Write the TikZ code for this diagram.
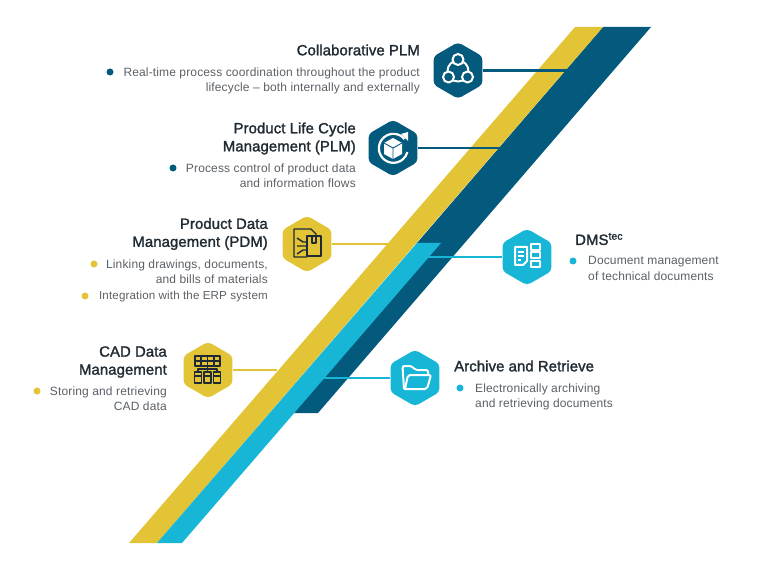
\documentclass[tikz,border=0pt]{standalone}
\usepackage{fontspec}
\setmainfont{Liberation Sans}
\newfontfamily\titlefont[FakeBold=1.6,LetterSpace=0.6]{Liberation Sans}
\newfontfamily\bodyfont[LetterSpace=1.2]{Liberation Sans}
\usepackage{tikz}
\usetikzlibrary{shapes.geometric, arrows}
\definecolor{navyband}{HTML}{035A7D}
\definecolor{yellowband}{HTML}{E3C436}
\definecolor{cyanband}{HTML}{17B5D6}
\definecolor{darkink}{HTML}{1F2A33}
\definecolor{greytext}{HTML}{5A6066}
\tikzstyle{hexbase} = [regular polygon, regular polygon sides=6, shape border rotate=30, minimum size=56.5pt, inner sep=0pt, rounded corners=4pt]
\tikzstyle{hexnavy} = [hexbase, fill=navyband]
\tikzstyle{hexyellow} = [hexbase, fill=yellowband]
\tikzstyle{hexcyan} = [hexbase, fill=cyanband]
\tikzstyle{titletext} = [font={\titlefont\fontsize{14.9}{18}\selectfont}, text=darkink, inner sep=0pt]
\tikzstyle{bodytext} = [font={\bodyfont\fontsize{12}{15.5}\selectfont}, text=greytext, inner sep=0pt]
\tikzstyle{bullet} = [circle, minimum size=7pt, inner sep=0pt]
\tikzstyle{link} = [line width=2.6pt]
\tikzstyle{whiteicon} = [draw=white, line width=2pt, line join=round]
\tikzstyle{darkicon} = [draw=darkink, line width=1.4pt, line join=round]

\begin{document}
\begin{tikzpicture}[x=1pt, y=-1pt]
\useasboundingbox (0,0) rectangle (768,569);

% bands
\fill [navyband] (603,27) -- (651,27) -- (318,413) -- (294,413) -- (417,243) -- cycle;
\fill [yellowband] (575,27) -- (603,27) -- (157,543) -- (129,543) -- cycle;
\fill [cyanband] (417,243) -- (441,243) -- (182,543) -- (157,543) -- cycle;

% hexagons
\node (hexcollab) [hexnavy] at (458,70.5) {};
\node (hexplm) [hexnavy] at (393,148) {};
\node (hexpdm) [hexyellow] at (307,244) {};
\node (hexdms) [hexcyan] at (527,257) {};
\node (hexcad) [hexyellow] at (208,370) {};
\node (hexarchive) [hexcyan] at (415,378) {};

% link ends
\coordinate (endcollab) at (568,70.5);
\coordinate (endplm) at (502,148);
\coordinate (endpdm) at (388,244);
\coordinate (enddms) at (427,257);
\coordinate (endcad) at (277,370);
\coordinate (endarchive) at (322,378);

\draw [link, navyband] (hexcollab) -- (endcollab);
\draw [link, navyband] (hexplm) -- (endplm);
\draw [link, yellowband] (hexpdm) -- (endpdm);
\draw [link, cyanband] (hexdms) -- (enddms);
\draw [link, yellowband] (hexcad) -- (endcad);
\draw [link, cyanband] (hexarchive) -- (endarchive);

% text
\node (titlecollab) [titletext, anchor=east] at (420,50) {Collaborative PLM};
\node (bodycollab) [bodytext, anchor=north east, align=right] at (420,67.5) {Real-time process coordination throughout the product\\lifecycle – both internally and externally};
\node (dotcollab) [bullet, fill=navyband] at (110,72) {};

\node (titleplm) [titletext, anchor=east, align=right] at (356,138.5) {Product Life Cycle\\Management (PLM)};
\node (bodyplm) [bodytext, anchor=north east, align=right] at (356,163.5) {Process control of product data\\and information flows};
\node (dotplm) [bullet, fill=navyband] at (173,168) {};

\node (titlepdm) [titletext, anchor=east, align=right] at (268,234) {Product Data\\Management (PDM)};
\node (bodypdm) [bodytext, anchor=north east, align=right] at (268,259.5) {Linking drawings, documents,\\and bills of materials};
\node (bodyerp) [bodytext, anchor=east, font={\bodyfont\fontsize{11.6}{15.5}\selectfont}] at (268,297) {Integration with the ERP system};
\node (dotpdm) [bullet, fill=yellowband] at (94,264) {};
\node (doterp) [bullet, fill=yellowband] at (85,296) {};

\node (titlecad) [titletext, anchor=east, align=right] at (167,362) {CAD Data\\Management};
\node (bodycad) [bodytext, anchor=north east, align=right] at (167,386.5) {Storing and retrieving\\CAD data};
\node (dotcad) [bullet, fill=yellowband] at (37,391) {};

\node (titledms) [titletext, anchor=west] at (575,239) {DMS\textsuperscript{tec}};
\node (bodydms) [bodytext, anchor=north west, align=left] at (588,256.5) {Document management\\of technical documents};
\node (dotdms) [bullet, fill=cyanband] at (573,261) {};

\node (titlearchive) [titletext, anchor=west] at (454,366) {Archive and Retrieve};
\node (bodyarchive) [bodytext, anchor=north west, align=left] at (475,383.5) {Electronically archiving\\and retrieving documents};
\node (dotarchive) [bullet, fill=cyanband] at (460,388) {};

% icon: collaboration ring
\draw [whiteicon] (458,71) circle (10.5);
\foreach \cx/\cy in {458/59.5, 448.5/77, 467.5/77}
  \draw [whiteicon, fill=navyband] (\cx,\cy) circle (5.5);

% icon: cube with arrow
\draw [whiteicon, line width=2.2pt] (404.5,139) arc (-40:-345:14.5);
\fill [white] (401,134) -- (408,132) -- (408,141) -- cycle;
\fill [white] (393,138) -- (402,143) -- (402,154) -- (393,159) -- (384,154) -- (384,143) -- cycle;
\draw [navyband, line width=0.9pt] (384,143) -- (393,148) -- (402,143) (393,148) -- (393,159);

% icon: document and parcel
\draw [darkicon] (316,236) -- (316,234) -- (311,229) -- (294,229) -- (294,257) -- (307,257);
\draw [darkicon] (307,236) rectangle (321,256);
\draw [darkicon] (312,236) -- (312,243) -- (316,243) -- (316,236);
\draw [darkicon] (297,238) -- (303,242) -- (307,242) (297,246) -- (307,246) (297,254) -- (303,250) -- (307,250);

% icon: document and lists
\draw [whiteicon] (527,261) -- (527,247) -- (515,247) -- (515,265) -- (523,265) -- cycle;
\draw [whiteicon, line width=1.4pt] (518,252) -- (524,252) (518,256) -- (524,256) (518,260) -- (521,260);
\foreach \ry in {244, 252.5, 261}
  \draw [whiteicon] (531,\ry) rectangle (540,\ry+6);

% icon: table and cylinders
\draw [darkicon] (195,356) rectangle (220,366);
\draw [darkicon] (195,361) -- (220,361) (201,356) -- (201,366) (207.5,356) -- (207.5,366) (214,356) -- (214,366);
\draw [darkicon] (198,372) -- (198,369) -- (217,369) -- (217,372) (207.5,366) -- (207.5,372);
\foreach \tx in {198,207.5,217} {
  \draw [darkicon] (\tx-3.5,372) rectangle (\tx+3.5,383);
  \draw [darkicon] (\tx-3.5,376) -- (\tx+3.5,376);
}

% icon: folder
\draw [whiteicon, rounded corners=2pt] (404,389) -- (402.5,366) -- (412,366) -- (415,370) -- (428,370) -- (428,374);
\draw [whiteicon, rounded corners=2pt] (404,389) -- (427,389) -- (431,375) -- (408,375) -- (405,389);
\end{tikzpicture}
\end{document}
